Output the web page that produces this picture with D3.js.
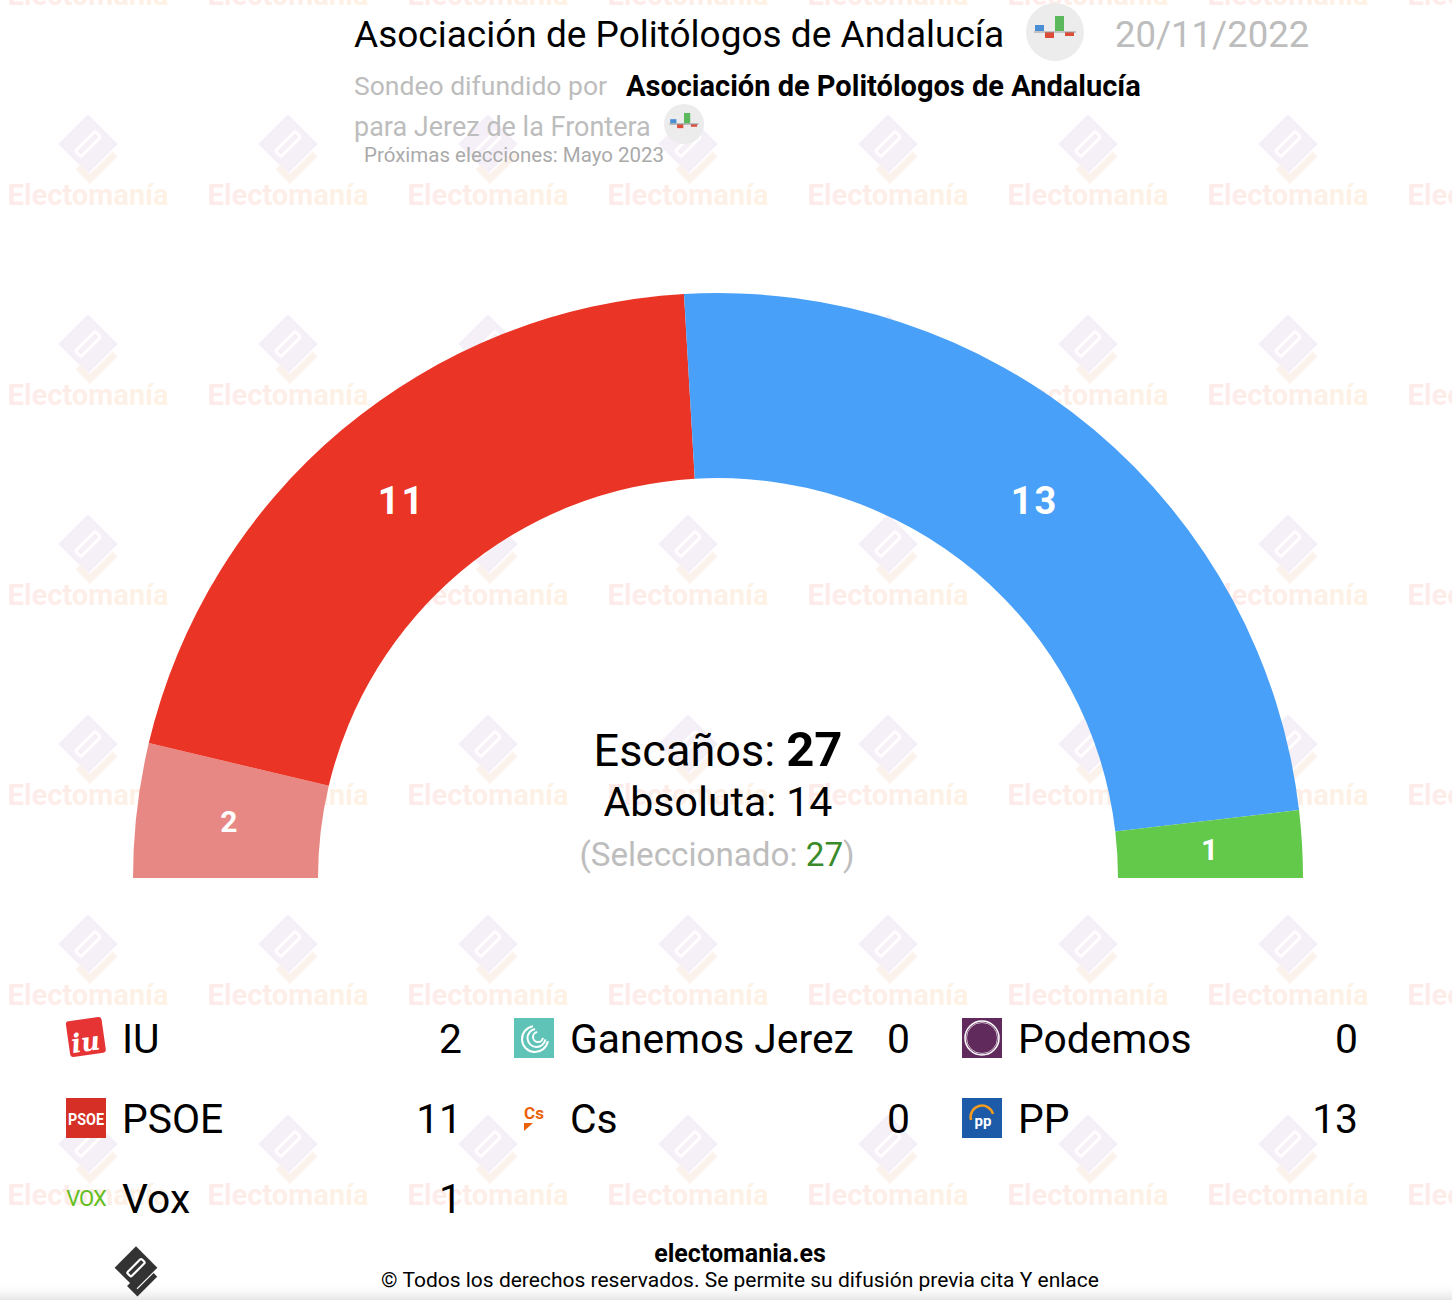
<!DOCTYPE html>
<html>
<head>
<meta charset="utf-8">
<script src="https://cdn.jsdelivr.net/npm/d3@7"></script>
<style>
  html, body { margin: 0; padding: 0; background: #fff; }
  svg { display: block; font-family: Roboto, "Noto Sans", sans-serif; }
</style>
</head>
<body>
<div id="chart"></div>
<script>
// legend order (row by row) and seats
var parties = ["IU", "Ganemos Jerez", "Podemos", "PSOE", "Cs", "PP", "Vox"];
var seats   = [2, 0, 0, 11, 0, 13, 1];
var colors  = ["#e88884", "#5fc4b7", "#612a5d", "#ea3526", "#eb6109", "#49a0f8", "#63c94b"];
// order of the hemicycle, left to right
var arcOrder = ["IU", "PSOE", "Ganemos Jerez", "Podemos", "Cs", "PP", "Vox"];

var totalSeats = 27, majority = 14, selected = 27;
var title = "Asociación de Politólogos de Andalucía";
var pollDate = "20/11/2022";
var place = "para Jerez de la Frontera";
var nextElection = "Próximas elecciones: Mayo 2023";

var W = 1452, H = 1300;
var svg = d3.select("#chart").append("svg").attr("width", W).attr("height", H);
var defs = svg.append("defs");

// ---------- watermark tiles ----------
var grad = defs.append("linearGradient").attr("id", "wmText");
grad.append("stop").attr("offset", "0%").attr("stop-color", "#fdeaea");
grad.append("stop").attr("offset", "100%").attr("stop-color", "#fdf2e4");

function drawLogo(g, fill, accent, inner) {
    // diamond with slot and an L underneath
    g.append("rect").attr("x", -21).attr("y", -21).attr("width", 42).attr("height", 42)
        .attr("transform", "translate(0,-6) rotate(45)").attr("fill", fill);
    g.append("rect").attr("x", -14).attr("y", -4).attr("width", 28).attr("height", 8).attr("rx", 2)
        .attr("transform", "translate(0,-6) rotate(-45)").attr("fill", "none")
        .attr("stroke", inner).attr("stroke-width", 3);
    g.append("path").attr("d", "M-10,17 L2,29 L27,4")
        .attr("fill", "none").attr("stroke", accent).attr("stroke-width", 7);
}

var pat = defs.append("pattern").attr("id", "wm")
    .attr("patternUnits", "userSpaceOnUse")
    .attr("width", 200).attr("height", 200)
    .attr("x", -12).attr("y", 50);
var tile = pat.append("g");
drawLogo(tile.append("g").attr("transform", "translate(100,100)"), "#f5eff7", "#fcf2ec", "#ffffff");
tile.append("text").attr("x", 100).attr("y", 155).attr("text-anchor", "middle")
    .attr("font-size", 29).attr("font-weight", 700).attr("fill", "url(#wmText)")
    .text("Electomanía");

svg.append("rect").attr("width", W).attr("height", H).attr("fill", "url(#wm)");

// ---------- header ----------
function pollIcon(cx, cy, r) {
    var g = svg.append("g").attr("transform", "translate(" + cx + "," + cy + ")");
    var k = r / 29;
    g.append("circle").attr("r", r).attr("fill", "#ececec");
    g.append("rect").attr("x", -20 * k).attr("y", -7 * k).attr("width", 9 * k).attr("height", 6 * k).attr("fill", "#4a8fd6");
    g.append("rect").attr("x", -10 * k).attr("y", 0).attr("width", 9 * k).attr("height", 6 * k).attr("fill", "#dd4b39");
    g.append("rect").attr("x", 0).attr("y", -16 * k).attr("width", 9 * k).attr("height", 15 * k).attr("fill", "#5cb85c");
    g.append("rect").attr("x", 10 * k).attr("y", 0).attr("width", 9 * k).attr("height", 4 * k).attr("fill", "#dd4b39");
    g.append("line").attr("x1", -21 * k).attr("x2", 21 * k).attr("y1", 0).attr("y2", 0)
        .attr("stroke", "#999").attr("stroke-width", 1.2);
}

svg.append("text").attr("x", 354).attr("y", 47).attr("font-size", 37).attr("fill", "#000").text(title);
pollIcon(1055, 32, 29);
svg.append("text").attr("x", 1115).attr("y", 47).attr("font-size", 36.5).attr("fill", "#bdbdbd").text(pollDate);

svg.append("text").attr("x", 354).attr("y", 95).attr("font-size", 26.5).attr("fill", "#bdbdbd")
    .text("Sondeo difundido por");
svg.append("text").attr("x", 626).attr("y", 96).attr("font-size", 29).attr("font-weight", 700)
    .attr("fill", "#000").text(title);

svg.append("text").attr("x", 354).attr("y", 136).attr("font-size", 27).attr("fill", "#bdbdbd").text(place);
pollIcon(684, 124, 20);
svg.append("text").attr("x", 364).attr("y", 162).attr("font-size", 20.5).attr("fill", "#aaaaaa").text(nextElection);

// ---------- hemicycle ----------
var cx = 718, cy = 878, rOut = 585, rIn = 400;
var seatOf = {}, colorOf = {};
parties.forEach(function(p, i) { seatOf[p] = seats[i]; colorOf[p] = colors[i]; });
var arcData = arcOrder.map(function(p) { return { name: p, value: seatOf[p] }; })
    .filter(function(d) { return d.value > 0; });

var pie = d3.pie().sort(null).value(function(d) { return d.value; })
    .startAngle(-Math.PI / 2).endAngle(Math.PI / 2);
var arc = d3.arc().innerRadius(rIn).outerRadius(rOut);
var labelArc = d3.arc().innerRadius((rIn + rOut) / 2).outerRadius((rIn + rOut) / 2);

var hemi = svg.append("g").attr("transform", "translate(" + cx + "," + cy + ")");
var slices = hemi.selectAll("g.slice").data(pie(arcData)).enter().append("g").attr("class", "slice");
slices.append("path").attr("d", arc).attr("fill", function(d) { return colorOf[d.data.name]; });
slices.append("text")
    .attr("transform", function(d) {
        var c = labelArc.centroid(d);
        return "translate(" + c[0] + "," + c[1] + ")";
    })
    .attr("text-anchor", "middle").attr("dy", "0.36em")
    .attr("font-size", function(d) { return d.value > 5 ? 38 : 30; })
    .attr("font-weight", 700).attr("fill", "#fff")
    .attr("letter-spacing", function(d) { return d.value > 5 ? 2 : 0; })
    .text(function(d) { return d.value; });

// center texts
var t1 = svg.append("text").attr("x", cx).attr("y", 766).attr("text-anchor", "middle").attr("font-size", 45);
t1.append("tspan").text("Escaños: ");
t1.append("tspan").attr("font-weight", 700).attr("font-size", 49).text(totalSeats);
svg.append("text").attr("x", cx).attr("y", 816).attr("text-anchor", "middle").attr("font-size", 41)
    .text("Absoluta: " + majority);
var t3 = svg.append("text").attr("x", cx - 1).attr("y", 866).attr("text-anchor", "middle")
    .attr("font-size", 33.2).attr("fill", "#bdbdbd");
t3.append("tspan").text("(Seleccionado: ");
t3.append("tspan").attr("fill", "#3a8a2a").text(selected);
t3.append("tspan").text(")");

// ---------- legend ----------
var colX = [66, 514, 962], valX = [462, 910, 1358], rowY = [1038, 1118, 1198];

function drawIcon(g, name) {
    if (name === "IU") {
        g.append("rect").attr("x", 2).attr("y", 1).attr("width", 36).attr("height", 36).attr("rx", 3)
            .attr("fill", "#e63435").attr("transform", "rotate(-8 20 20)");
        g.append("text").attr("x", 19).attr("y", 33).attr("text-anchor", "middle").attr("font-size", 26)
            .attr("font-style", "italic").attr("font-weight", 700).attr("fill", "#fff")
            .attr("font-family", "DejaVu Serif, serif").attr("transform", "rotate(-8 20 20)").text("iu");
    } else if (name === "Ganemos Jerez") {
        g.append("rect").attr("width", 40).attr("height", 40).attr("fill", "#5fc4b7");
        [14, 10, 6].forEach(function(r, i) {
            g.append("path").attr("d", d3.arc().innerRadius(r - 2).outerRadius(r)
                .startAngle(Math.PI * 0.55).endAngle(Math.PI * 1.95)())
                .attr("transform", "translate(" + (21 + i * 1.5) + "," + (21 - i * 1) + ")")
                .attr("fill", "#fff");
        });
    } else if (name === "Podemos") {
        g.append("rect").attr("width", 40).attr("height", 40).attr("fill", "#612a5d");
        g.append("circle").attr("cx", 20).attr("cy", 20).attr("r", 17).attr("fill", "none")
            .attr("stroke", "#fff").attr("stroke-width", 1.5);
        g.append("circle").attr("cx", 20).attr("cy", 20).attr("r", 15.5).attr("fill", "none")
            .attr("stroke", "#e8d8e6").attr("stroke-width", 0.8);
    } else if (name === "PSOE") {
        g.append("rect").attr("width", 40).attr("height", 40).attr("fill", "#d62f25");
        g.append("text").attr("x", 20).attr("y", 27).attr("text-anchor", "middle").attr("font-size", 16)
            .attr("font-weight", 700).attr("fill", "#fff").attr("textLength", 36)
            .attr("lengthAdjust", "spacingAndGlyphs")
            .attr("font-family", "Liberation Sans Narrow, Roboto, sans-serif").text("PSOE");
    } else if (name === "Cs") {
        g.append("text").attr("x", 20).attr("y", 21).attr("text-anchor", "middle").attr("font-size", 17)
            .attr("font-weight", 700).attr("fill", "#eb6109").text("Cs");
        g.append("path").attr("d", "M10,25 L19,25 L10,33 Z").attr("fill", "#eb6109");
    } else if (name === "PP") {
        g.append("rect").attr("width", 40).attr("height", 40).attr("fill", "#1d5ba8");
        g.append("path").attr("d", "M9,22 A11,11 0 0 1 31,16").attr("fill", "none")
            .attr("stroke", "#f39c1e").attr("stroke-width", 2.5);
        g.append("text").attr("x", 21).attr("y", 28).attr("text-anchor", "middle").attr("font-size", 15)
            .attr("font-weight", 700).attr("fill", "#fff").text("pp");
    } else if (name === "Vox") {
        g.append("text").attr("x", 20).attr("y", 28).attr("text-anchor", "middle").attr("font-size", 22)
            .attr("fill", "#63be21").attr("letter-spacing", -1).text("VOX");
    }
}

parties.forEach(function(p, i) {
    var c = i % 3, r = Math.floor(i / 3);
    var g = svg.append("g").attr("transform", "translate(" + colX[c] + "," + (rowY[r] - 20) + ")");
    drawIcon(g, p);
    svg.append("text").attr("x", colX[c] + 56).attr("y", rowY[r] + 15).attr("font-size", 40.8)
        .attr("fill", "#000").text(p);
    svg.append("text").attr("x", valX[c]).attr("y", rowY[r] + 15).attr("font-size", 40.8)
        .attr("text-anchor", "end").attr("fill", "#000").text(seats[i]);
});

// ---------- footer ----------
var fgrad = defs.append("linearGradient").attr("id", "foot").attr("x1", 0).attr("x2", 0).attr("y1", 0).attr("y2", 1);
fgrad.append("stop").attr("offset", "0%").attr("stop-color", "#ffffff").attr("stop-opacity", 0);
fgrad.append("stop").attr("offset", "100%").attr("stop-color", "#e6e6e6");
svg.append("rect").attr("x", 0).attr("y", 1282).attr("width", W).attr("height", 18).attr("fill", "url(#foot)");

var flogo = svg.append("g").attr("transform", "translate(136,1272) scale(0.72)");
drawLogo(flogo, "#333333", "#333333", "#ffffff");

svg.append("text").attr("x", 740).attr("y", 1262).attr("text-anchor", "middle").attr("font-size", 25)
    .attr("font-weight", 700).text("electomania.es");
svg.append("text").attr("x", 740).attr("y", 1287).attr("text-anchor", "middle").attr("font-size", 21)
    .text("© Todos los derechos reservados. Se permite su difusión previa cita Y enlace");
</script>
</body>
</html>
